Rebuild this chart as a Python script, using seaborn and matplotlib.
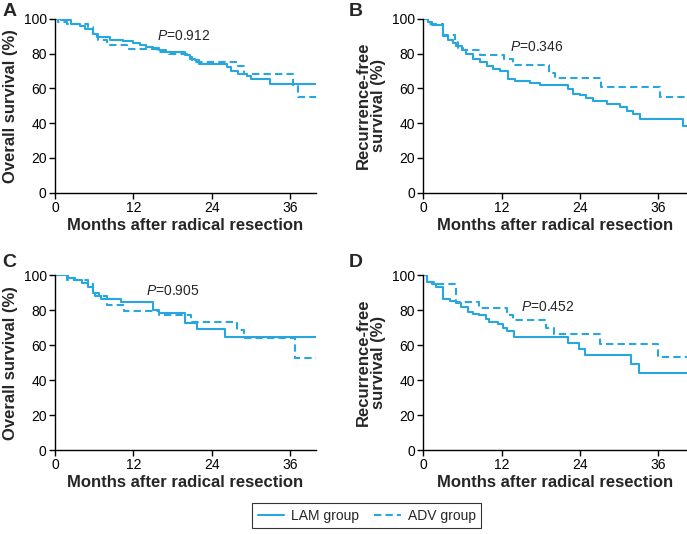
import matplotlib
matplotlib.use("Agg")
import matplotlib.pyplot as plt
import seaborn as sns
import pandas as pd

# Courbes de survie (mois, %)
a_lam_t = [0, 1, 2.5, 3.8, 4.6, 5.9, 6.4, 8.4, 10.5, 12, 13, 14, 15, 16, 17, 19.9, 20.7, 21.4, 22, 26.3, 27, 28, 29.4, 30, 33, 40]
a_lam_s = [100, 99, 97, 96, 94, 91, 89.5, 88, 87, 86, 85, 84, 83, 82, 81, 79.3, 77, 76, 74, 72, 70, 68, 67, 65.4, 62.7, 62.7]
a_adv_t = [0, 0.5, 1.8, 5.1, 5.9, 6.6, 7.9, 11, 15.6, 17.4, 20.2, 21, 21.4, 28, 28.9, 36.5, 37.3, 40]
a_adv_s = [100, 98, 97, 95, 92, 88, 84.7, 82.6, 81, 80, 78, 76, 75.1, 72.6, 68, 62, 55, 55]

b_lam_t = [0, 0.8, 1.3, 3.1, 3.8, 4.6, 5.1, 5.9, 6.6, 7.7, 8.7, 9.7, 10.7, 11.7, 13, 14, 16.3, 17.9, 22.2, 23, 24, 25, 26, 28.1, 30.1, 31.2, 32.2, 33.2, 39.8, 40.4]
b_lam_s = [100, 98, 96.2, 89.9, 88, 86, 84.1, 82, 80, 76.9, 75, 73, 71, 70, 65.4, 64.3, 63, 62, 59.7, 57, 56, 54.5, 53, 51.2, 49, 47, 45, 42.4, 38.6, 38.6]
b_adv_t = [0, 0.8, 3.1, 4.9, 5.4, 6.1, 8.7, 12.3, 13.8, 19.2, 20.2, 27.3, 36.3, 40.4]
b_adv_s = [100, 97, 90.8, 87, 83, 81.8, 79.3, 76.9, 73.4, 69, 66, 61, 55.3, 55.3]

c_lam_t = [0, 2, 3, 4.1, 5.1, 5.8, 6.1, 7.1, 10.1, 15, 16, 20, 21.8, 26.1, 40]
c_lam_s = [100, 98.1, 97, 95.2, 93.3, 89.5, 88, 86.1, 84.8, 80, 78.1, 72.4, 69.1, 64.4, 64.4]
c_adv_t = [0, 1.8, 5.1, 5.8, 6.8, 7.9, 10.6, 16, 20.8, 27.9, 28.9, 36.8, 40]
c_adv_s = [100, 97.1, 95, 90, 88, 82.9, 79.6, 76.9, 73.3, 68.6, 63.8, 52.4, 52.4]

d_lam_t = [0, 0.6, 1.3, 2, 3, 4.1, 5.1, 5.8, 6.8, 7.6, 8.6, 9.6, 10.1, 11.4, 12.2, 12.9, 13.9, 22.1, 23.8, 24.8, 31.9, 33, 40.4]
d_lam_s = [100, 96.2, 95, 93, 86.1, 85, 84, 82, 79, 78, 77, 75, 73.3, 72, 70, 68.2, 64.4, 61, 58, 54.5, 49.1, 43.8, 43.8]
d_adv_t = [0, 0.6, 2, 5.1, 8.6, 12.9, 13.7, 18.8, 20, 27.1, 36, 40.4]
d_adv_s = [100, 96, 94.9, 84.8, 81, 77.1, 74.3, 70, 66.3, 60.6, 53, 53]

groups = ["LAM group", "ADV group"]
p_values = ["0.912", "0.346", "0.905", "0.452"]
panel_letters = ["A", "B", "C", "D"]
y_labels = ["Overall survival (%)", "Recurrence-free\nsurvival (%)",
            "Overall survival (%)", "Recurrence-free\nsurvival (%)"]

curves = [
    (a_lam_t, a_lam_s, a_adv_t, a_adv_s),
    (b_lam_t, b_lam_s, b_adv_t, b_adv_s),
    (c_lam_t, c_lam_s, c_adv_t, c_adv_s),
    (d_lam_t, d_lam_s, d_adv_t, d_adv_s),
]

sns.set_style("ticks")
plt.rcParams["font.family"] = ["Liberation Sans", "DejaVu Sans"]
plt.rcParams["mathtext.fontset"] = "custom"
plt.rcParams["mathtext.rm"] = "Liberation Sans"
plt.rcParams["mathtext.it"] = "Liberation Sans:italic"

BLUE = "#27a6df"

fig = plt.figure(figsize=(6.87, 5.34), dpi=100)

# positions des axes (fraction de la figure)
positions = [
    [0.080, 0.639, 0.380, 0.326],
    [0.616, 0.639, 0.384, 0.326],
    [0.080, 0.157, 0.380, 0.328],
    [0.616, 0.157, 0.384, 0.328],
]
xmax = [40, 40.4, 40, 40.4]
p_pos = [(15.7, 90), (13.3, 84), (14.0, 91), (15.0, 82)]
letter_pos = [(0.004, 0.995), (0.507, 0.995), (0.004, 0.525), (0.507, 0.525)]

for i, (lt, ls, at, as_) in enumerate(curves):
    ax = fig.add_axes(positions[i])
    df = pd.concat([
        pd.DataFrame({"t": lt, "s": ls, "group": groups[0]}),
        pd.DataFrame({"t": at, "s": as_, "group": groups[1]}),
    ], ignore_index=True)
    sns.lineplot(data=df, x="t", y="s", style="group", style_order=groups,
                 dashes={groups[0]: "", groups[1]: (3.5, 2)},
                 color=BLUE, drawstyle="steps-post", estimator=None,
                 sort=False, linewidth=1.5, ax=ax, legend=(i == 0))
    ax.set_xlim(0, xmax[i])
    ax.set_ylim(0, 100)
    ax.set_xticks([0, 12, 24, 36])
    ax.set_yticks([0, 20, 40, 60, 80, 100])
    ax.tick_params(labelsize=10, length=4, width=1, colors="black", pad=2)
    for sp in ["left", "bottom"]:
        ax.spines[sp].set_color("black")
        ax.spines[sp].set_linewidth(1)
    sns.despine(ax=ax)
    ax.set_xlabel("Months after radical resection", fontsize=12, fontweight="bold", labelpad=2)
    ax.set_ylabel(y_labels[i], fontsize=12, fontweight="bold", labelpad=4, linespacing=1.0)
    ax.text(p_pos[i][0], p_pos[i][1], "$P$=" + p_values[i], fontsize=10, va="center", ha="left")
    fig.text(letter_pos[i][0], letter_pos[i][1], panel_letters[i], fontsize=14,
             fontweight="bold", va="top", ha="left")
    if i == 0:
        handles, labels = ax.get_legend_handles_labels()
        ax.get_legend().remove()

fig.legend(handles, labels, loc="center", bbox_to_anchor=(0.534, 0.034), ncol=2,
           fontsize=10, frameon=True, fancybox=False, edgecolor="black",
           handlelength=1.9, handletextpad=0.5, columnspacing=1.1, borderpad=0.4)
leg = fig.legends[0]
leg.get_frame().set_linewidth(0.8)
for h in leg.get_lines():
    h.set_color(BLUE)
    h.set_linewidth(1.5)

fig.savefig("out.png", dpi=100)
